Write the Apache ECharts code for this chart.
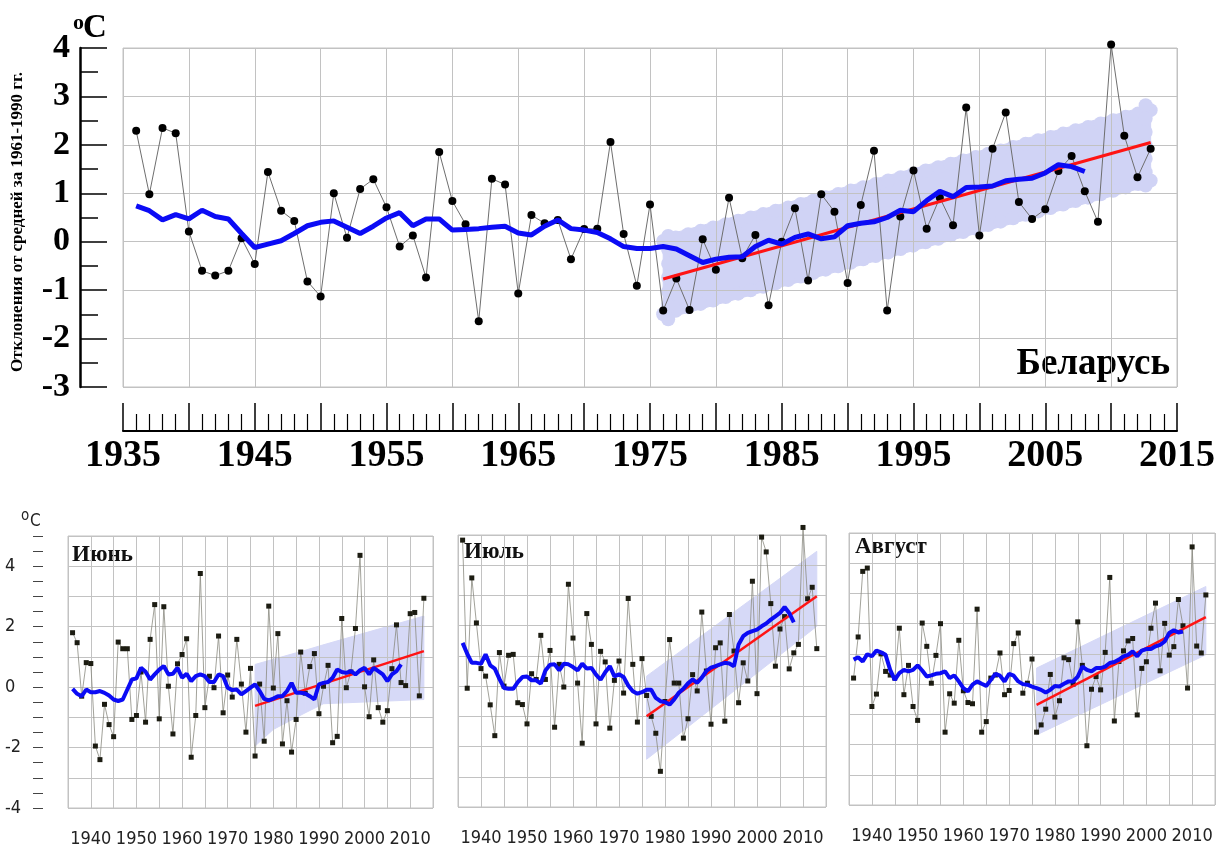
<!DOCTYPE html>
<html>
<head>
<meta charset="utf-8">
<script src="https://cdn.jsdelivr.net/npm/echarts@6/dist/echarts.min.js"></script>
<style>
html,body{margin:0;padding:0;background:#fff}
#main{width:1218px;height:852px}
</style>
</head>
<body>
<div id="main"></div>
<script>
// Беларусь, годовые аномалии (верхний график)
var mainStart = 1936;
var mainTemp = [2.29,0.98,2.35,2.24,0.21,-0.60,-0.70,-0.60,0.07,-0.46,
	1.44,0.64,0.43,-0.82,-1.13,1.00,0.08,1.09,1.29,0.71,
	-0.10,0.13,-0.74,1.85,0.84,0.36,-1.64,1.30,1.18,-1.07,
	0.55,0.38,0.45,-0.36,0.26,0.27,2.06,0.16,-0.91,0.77,
	-1.42,-0.76,-1.41,0.05,-0.58,0.91,-0.34,0.14,-1.31,0.00,
	0.69,-0.80,0.98,0.62,-0.85,0.76,1.88,-1.42,0.52,1.47,
	0.27,0.91,0.34,2.77,0.13,1.92,2.67,0.82,0.47,0.67,
	1.46,1.77,1.04,0.41,4.07,2.19,1.33,1.92];
var mainSmooth = [0.74,0.64,0.45,0.56,0.47,0.65,0.52,0.47,0.17,-0.12,
	-0.05,0.02,0.17,0.33,0.40,0.43,0.30,0.17,0.32,0.49,
	0.60,0.33,0.47,0.47,0.24,0.25,0.27,0.30,0.32,0.18,
	0.14,0.32,0.45,0.27,0.24,0.19,0.06,-0.10,-0.14,-0.14,
	-0.10,-0.15,-0.29,-0.43,-0.36,-0.32,-0.31,-0.10,0.03,-0.05,
	0.09,0.16,0.06,0.10,0.33,0.38,0.41,0.50,0.65,0.62,
	0.85,1.04,0.93,1.12,1.13,1.15,1.26,1.29,1.31,1.42,
	1.59,1.55,1.45];
var mainTrendYears = [1976, 2013];
var mainTrend = [-0.77, 2.05];
var mainBandYears = [1976, 2013];
var mainBandLow = [-1.60, 1.16];
var mainBandHigh = [0.12, 2.82];

// Июнь
var juneTemp = [1.80,1.47,-0.30,0.81,0.78,-1.95,-2.40,-0.57,-1.24,-1.64,
	1.49,1.27,1.27,-1.07,-0.94,0.50,-1.16,1.58,2.73,-1.05,
	2.66,0.03,-1.55,0.77,1.08,1.60,-2.32,-0.94,3.76,-0.68,
	0.36,-0.02,1.69,-0.85,0.40,-0.33,1.58,0.10,-1.49,0.62,
	-2.28,0.10,-1.79,2.68,-0.03,1.77,-1.88,-0.45,-2.15,-1.07,
	1.16,-0.20,0.68,1.11,-0.88,0.03,0.72,-1.84,-1.63,2.27,
	-0.02,0.50,1.94,4.36,0.01,-0.98,0.90,-0.68,-1.16,-0.78,
	0.61,2.06,0.15,0.05,2.43,2.47,-0.29,2.94];
var juneSmooth = [-0.06,-0.22,-0.30,-0.08,-0.17,-0.17,-0.13,-0.19,-0.28,-0.41,
	-0.46,-0.41,-0.08,0.25,0.29,0.64,0.51,0.25,0.42,0.58,
	0.70,0.42,0.44,0.64,0.31,0.44,0.20,0.36,0.42,0.36,
	0.17,0.17,0.42,0.36,-0.02,-0.10,-0.08,-0.24,-0.13,-0.02,
	0.09,-0.13,-0.39,-0.44,-0.38,-0.30,-0.30,-0.13,0.14,-0.19,
	-0.19,-0.21,-0.30,-0.41,0.09,0.14,0.17,0.31,0.58,0.50,
	0.47,0.53,0.42,0.56,0.64,0.42,0.64,0.53,0.42,0.20,
	0.42,0.53,0.75];
var juneTrend = [-0.62, 1.19];
var juneBandYears = [1976, 1980, 1987, 1991, 2013];
var juneBandLow = [-1.95, -1.40, -0.85, -0.55, -0.41];
var juneBandHigh = [0.75, 0.92, 1.22, 1.40, 2.35];

// Июль
var julyTemp = [4.83,-0.07,3.58,2.09,0.58,0.33,-0.62,-1.64,1.11,0.00,
	1.02,1.05,-0.55,-0.61,-1.25,0.41,0.22,1.68,0.22,1.18,
	-1.36,0.72,-0.03,3.37,1.59,0.10,-1.89,2.40,1.38,-1.25,
	1.15,0.80,-1.39,0.19,0.83,-0.23,2.90,0.72,-1.19,0.91,
	-0.31,-1.00,-1.56,-2.82,-0.51,1.54,0.10,0.10,-1.72,-1.08,
	0.38,-0.16,2.45,0.50,-1.26,1.27,1.43,-1.16,2.37,1.16,
	-0.55,0.77,0.17,3.47,-0.25,4.93,4.44,2.73,0.66,1.89,
	2.30,0.57,1.10,1.38,5.25,2.89,3.27,1.24];
var julySmooth = [1.43,1.07,0.77,0.77,0.74,1.05,0.69,0.58,0.24,-0.06,
	-0.09,-0.09,0.13,0.30,0.32,0.19,0.19,0.08,0.52,0.71,
	0.72,0.52,0.74,0.72,0.63,0.52,0.74,0.58,0.60,0.38,
	0.21,0.46,0.66,0.32,0.39,0.30,0.02,-0.17,-0.25,-0.20,
	-0.12,-0.12,-0.39,-0.50,-0.53,-0.61,-0.44,-0.22,-0.09,0.09,
	0.22,0.11,0.28,0.50,0.61,0.66,0.72,0.77,0.75,0.66,
	1.38,1.65,1.76,1.82,1.87,1.98,2.07,2.20,2.31,2.42,
	2.62,2.42,2.11];
var julyTrend = [-1.00, 2.97];
var julyBandYears = [1976, 2013];
var julyBandLow = [-2.42, 1.98];
var julyBandHigh = [0.33, 4.46];

// Август
var augTemp = [0.20,1.56,3.73,3.84,-0.74,-0.33,1.00,0.42,0.30,0.20,
	1.85,-0.35,0.62,-0.74,-1.20,2.02,1.25,0.03,0.95,2.00,
	-1.59,-0.32,-0.63,1.45,-0.22,-0.61,-0.65,2.48,-1.59,-1.24,
	0.20,0.30,1.03,-0.35,-0.21,1.34,1.69,-0.30,0.03,0.83,
	-1.59,-1.35,-0.83,0.32,-1.09,-0.55,0.87,0.81,0.00,2.06,
	0.62,-2.04,-0.17,0.25,-0.19,1.05,3.53,-1.22,0.75,1.10,
	1.43,1.51,-1.02,0.52,0.74,1.85,2.68,0.44,2.01,0.96,
	1.24,2.80,1.93,-0.13,4.54,1.26,1.03,2.95];
var augSmooth = [0.81,0.89,0.75,0.99,0.92,1.11,1.05,0.97,0.47,0.14,
	0.36,0.47,0.42,0.47,0.62,0.45,0.25,0.29,0.34,0.36,
	0.42,0.20,0.29,0.09,-0.13,-0.24,-0.02,0.09,0.01,-0.06,
	0.14,0.34,0.28,0.09,0.34,0.28,0.09,0.00,-0.02,-0.08,
	-0.13,-0.19,-0.28,-0.19,-0.06,-0.08,0.01,0.09,0.09,0.25,
	0.58,0.47,0.42,0.53,0.53,0.58,0.70,0.73,0.81,0.92,
	0.97,1.08,0.92,1.11,1.16,1.16,1.25,1.30,1.41,1.69,
	1.78,1.71,1.74];
var augTrend = [-0.69, 2.22];
var augBandYears = [1976, 2013];
var augBandLow = [-1.68, 0.97];
var augBandHigh = [0.53, 3.23];

var serif = '"Liberation Serif","Times New Roman",serif';
var narrow = '"Liberation Sans Narrow","DejaVu Sans Condensed",Arial,sans-serif';
var gridColor = '#c2c2c2';

function byYear(start, vals) {
	var out = [];
	for (var i = 0; i < vals.length; i++) out.push([start + i, vals[i]]);
	return out;
}
function zip(xs, ys) {
	return xs.map(function (x, i) { return [x, ys[i]]; });
}

// полоса доверительного интервала
function bandSeries(idx, years, low, high, color, bumps) {
	return {
		type: 'custom', xAxisIndex: idx, yAxisIndex: idx, z: -1, silent: true,
		data: years.map(function (y, i) { return [y, low[i], high[i]]; }),
		encode: {x: 0, y: [1, 2]},
		renderItem: function (params, api) {
			var i = params.dataIndex;
			if (i >= years.length - 1) return null;
			var a0 = api.coord([years[i], low[i]]), a1 = api.coord([years[i + 1], low[i + 1]]);
			var b0 = api.coord([years[i], high[i]]), b1 = api.coord([years[i + 1], high[i + 1]]);
			var kids = [{type: 'polygon', shape: {points: [a0, a1, b1, b0]},
				style: {fill: color, stroke: color, lineWidth: 1}}];
			if (bumps) {
				var r = 7;
				var row = function (p, q, dx, dy) {
					var d = Math.sqrt((q[0] - p[0]) * (q[0] - p[0]) + (q[1] - p[1]) * (q[1] - p[1]));
					var n = Math.max(1, Math.round(d / 13));
					for (var k = 0; k <= n; k++) {
						kids.push({type: 'circle', shape: {
							cx: p[0] + (q[0] - p[0]) * k / n + dx,
							cy: p[1] + (q[1] - p[1]) * k / n + dy, r: r},
							style: {fill: color}});
					}
				};
				row(b0, b1, 0, 5);
				row(a0, a1, 0, -5);
				if (i === 0) row(b0, a0, 5, 0);
				if (i === years.length - 2) row(b1, a1, -5, 0);
			}
			return {type: 'group', children: kids};
		}
	};
}

function panelSeries(idx, temp, smooth, trend, bandYears, bandLow, bandHigh, big) {
	var list = [];
	list.push(bandSeries(idx, bandYears, bandLow, bandHigh, big ? '#d0d3f5' : '#d6d9f7', big));
	list.push({
		type: 'line', xAxisIndex: idx, yAxisIndex: idx, z: 3, clip: false,
		data: byYear(mainStart, temp),
		symbol: big ? 'circle' : 'rect', symbolSize: big ? 8 : 5,
		itemStyle: {color: big ? '#000' : '#1c1c12'},
		lineStyle: {color: big ? '#6e6e6e' : '#8a8a80', width: big ? 1 : 0.8}
	});
	list.push({
		type: 'line', xAxisIndex: idx, yAxisIndex: idx, z: 4, showSymbol: false,
		data: zip(mainTrendYears, trend),
		lineStyle: {color: '#ff1414', width: big ? 3 : 2.5}
	});
	list.push({
		type: 'line', xAxisIndex: idx, yAxisIndex: idx, z: 5, showSymbol: false,
		data: byYear(mainStart, smooth),
		lineStyle: {color: '#0b0bf5', width: big ? 5 : 4}
	});
	return list;
}

function smallX(idx) {
	return {
		type: 'value', gridIndex: idx, min: 1935, max: 2015, interval: 5,
		axisLine: {show: false, onZero: false}, axisTick: {show: false},
		splitLine: {show: true, lineStyle: {color: gridColor, width: 1}},
		axisLabel: {
			margin: 22, color: '#222', fontFamily: narrow, fontSize: 18,
			formatter: function (v) { return (v % 10 === 0 && v > 1935 && v < 2015) ? String(v) : ''; }
		}
	};
}
function smallY(idx, labels) {
	return {
		type: 'value', gridIndex: idx, min: -4, max: 5, interval: 1, offset: 25,
		axisLine: {show: false, onZero: false},
		axisTick: {show: labels, length: 10, lineStyle: {color: '#444', width: 1}},
		minorTick: {show: labels, splitNumber: 2, length: 10, lineStyle: {color: '#444', width: 1}},
		splitLine: {show: true, lineStyle: {color: gridColor, width: 1}},
		axisLabel: {
			show: labels, margin: 38, align: 'left', color: '#222', fontFamily: narrow, fontSize: 18,
			formatter: function (v) { return (v % 2 === 0 && v < 5) ? String(v) : ''; }
		}
	};
}

var myChart = echarts.init(document.getElementById('main'));
var option = {
	animation: false,
	backgroundColor: '#fff',
	grid: [
		{left: 123, top: 48, width: 1058, height: 339, show: true, borderColor: gridColor, borderWidth: 1},
		{left: 68, top: 536, width: 365, height: 272, show: true, borderColor: gridColor, borderWidth: 1},
		{left: 458, top: 535, width: 368, height: 272, show: true, borderColor: gridColor, borderWidth: 1},
		{left: 849, top: 533, width: 367, height: 272, show: true, borderColor: gridColor, borderWidth: 1}
	],
	xAxis: [
		{
			type: 'value', gridIndex: 0, min: 1935, max: 2015, interval: 5, position: 'bottom', offset: 44,
			axisLine: {show: true, onZero: false, lineStyle: {color: '#000', width: 2}},
			axisTick: {show: true, inside: true, length: 28, lineStyle: {color: '#000', width: 1.5}},
			minorTick: {show: true, splitNumber: 5, length: 17, lineStyle: {color: '#000', width: 1.2}},
			splitLine: {show: true, lineStyle: {color: gridColor, width: 1}},
			axisLabel: {
				margin: 6, color: '#000', fontFamily: serif, fontWeight: 'bold', fontSize: 38,
				showMinLabel: true, showMaxLabel: true,
				formatter: function (v) { return (v - 1935) % 10 === 0 ? String(v) : ''; }
			}
		},
		smallX(1), smallX(2), smallX(3)
	],
	yAxis: [
		{
			type: 'value', gridIndex: 0, min: -3, max: 4, interval: 1, offset: 43,
			axisLine: {show: true, onZero: false, lineStyle: {color: '#000', width: 2.5}},
			axisTick: {show: true, inside: true, length: 27, lineStyle: {color: '#000', width: 1.5}},
			minorTick: {show: true, splitNumber: 2, length: 18, lineStyle: {color: '#000', width: 1.5}},
			splitLine: {show: true, lineStyle: {color: gridColor, width: 1}},
			axisLabel: {margin: 10, color: '#000', fontFamily: serif, fontWeight: 'bold', fontSize: 34}
		},
		smallY(1, true), smallY(2, false), smallY(3, false)
	],
	series: [].concat(
		panelSeries(0, mainTemp, mainSmooth, mainTrend, mainBandYears, mainBandLow, mainBandHigh, true),
		panelSeries(1, juneTemp, juneSmooth, juneTrend, juneBandYears, juneBandLow, juneBandHigh, false),
		panelSeries(2, julyTemp, julySmooth, julyTrend, julyBandYears, julyBandLow, julyBandHigh, false),
		panelSeries(3, augTemp, augSmooth, augTrend, augBandYears, augBandLow, augBandHigh, false)
	),
	graphic: [
		{type: 'text', x: 73, y: 23, style: {text: 'o', font: 'bold 22px ' + serif, fill: '#000', verticalAlign: 'middle'}},
		{type: 'text', x: 83, y: 28, style: {text: 'C', font: 'bold 33px ' + serif, fill: '#000', verticalAlign: 'middle'}},
		{type: 'text', x: 18, y: 222, rotation: Math.PI / 2,
			style: {text: 'Отклонения от средней за 1961-1990 гг.', font: 'bold 17px ' + serif, fill: '#000',
				align: 'center', verticalAlign: 'middle'}},
		{type: 'text', x: 1170, y: 364, style: {text: 'Беларусь', font: 'bold 37px ' + serif, fill: '#000',
			align: 'right', verticalAlign: 'middle'}},
		{type: 'text', x: 21, y: 516, style: {text: 'o', font: '15px ' + narrow, fill: '#222', verticalAlign: 'middle'}},
		{type: 'text', x: 30, y: 522, style: {text: 'C', font: '17px ' + narrow, fill: '#222', verticalAlign: 'middle'}},
		{type: 'text', x: 72, y: 555, style: {text: 'Июнь', font: 'bold 23px ' + serif, fill: '#111', verticalAlign: 'middle'}},
		{type: 'text', x: 464, y: 552, style: {text: 'Июль', font: 'bold 23px ' + serif, fill: '#111', verticalAlign: 'middle'}},
		{type: 'text', x: 855, y: 547, style: {text: 'Август', font: 'bold 23px ' + serif, fill: '#111', verticalAlign: 'middle'}}
	]
};
myChart.setOption(option);
</script>
</body>
</html>
